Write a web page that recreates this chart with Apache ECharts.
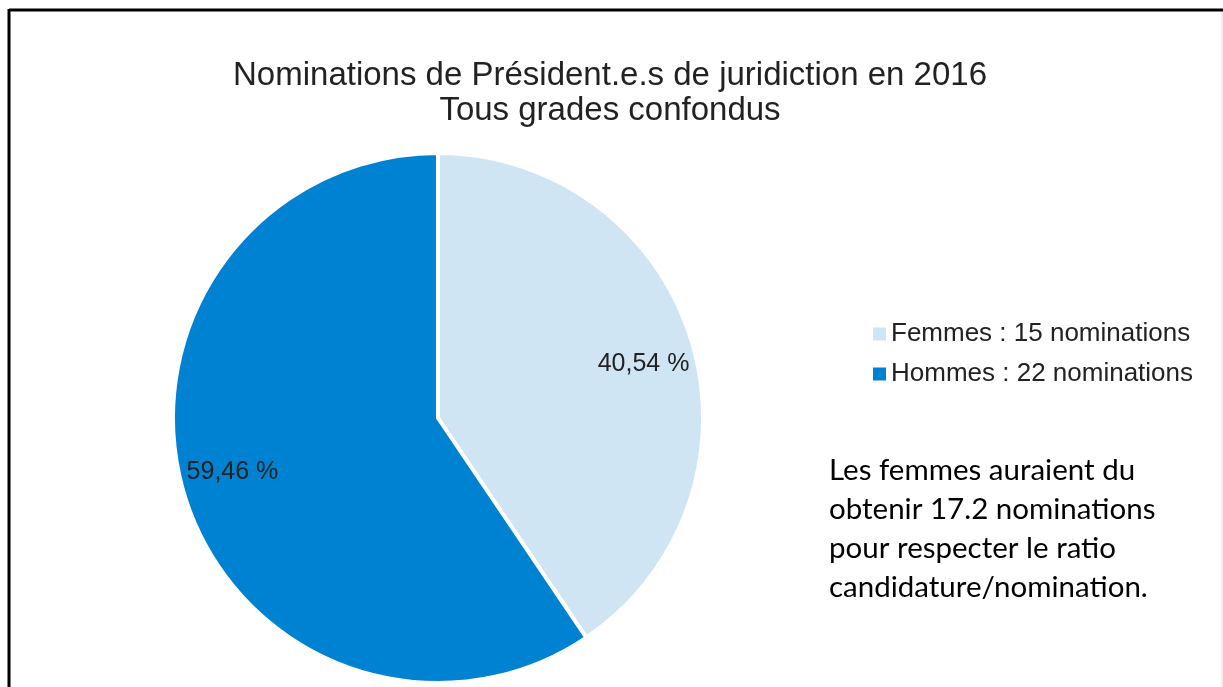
<!DOCTYPE html>
<html>
<head>
<meta charset="utf-8">
<script src="https://cdn.jsdelivr.net/npm/echarts@6/dist/echarts.min.js"></script>
<style>
  html, body { margin: 0; padding: 0; background: #fff; }
  #chart { width: 1223px; height: 687px; }
</style>
</head>
<body>
<div id="chart"></div>
<script>
// données
const categories = ['Femmes', 'Hommes']
const nominations = [15, 22]
const colors = ['#D0E5F4', '#0082D2']
const titleLines = ['Nominations de Président.e.s de juridiction en 2016', 'Tous grades confondus']
const noteLines = ['Les femmes auraient du', 'obtenir 17.2 nominations', 'pour respecter le ratio', 'candidature/nomination.']

const total = nominations.reduce((a, b) => a + b, 0)
const pieData = categories.map((name, i) => ({
  name: name,
  value: nominations[i],
  itemStyle: { color: colors[i] }
}))

const chart = echarts.init(document.getElementById('chart'))

chart.setOption({
  animation: false,
  title: {
    text: titleLines.join('\n'),
    left: 605,
    top: 53,
    textAlign: 'center',
    textStyle: {
      fontFamily: 'Liberation Sans',
      fontWeight: 'normal',
      fontSize: 33,
      lineHeight: 35,
      color: '#222'
    }
  },
  legend: {
    orient: 'vertical',
    left: 866,
    top: 316,
    itemWidth: 15,
    itemHeight: 15,
    itemGap: 14,
    icon: 'rect',
    data: categories,
    formatter: name => name + ' : ' + nominations[categories.indexOf(name)] + ' nominations',
    textStyle: {
      fontFamily: 'Liberation Sans',
      fontSize: 26,
      color: '#222',
      padding: [0, 0, 0, -1]
    }
  },
  graphic: [
    { type: 'line', shape: { x1: 9, y1: 10, x2: 1223, y2: 10 }, style: { stroke: '#000', lineWidth: 3 } },
    { type: 'line', shape: { x1: 9, y1: 9, x2: 9, y2: 687 }, style: { stroke: '#000', lineWidth: 3 } },
    { type: 'line', shape: { x1: 1222, y1: 12, x2: 1222, y2: 687 }, style: { stroke: '#ddd', lineWidth: 1 } },
    {
      type: 'text',
      left: 829,
      top: 451,
      style: {
        text: noteLines.join('\n'),
        fontFamily: 'Lato',
        fontSize: 29.5,
        lineHeight: 39,
        fill: '#000'
      }
    }
  ],
  series: [
    {
      type: 'pie',
      center: [438, 418],
      radius: 265,
      startAngle: 90,
      clockwise: true,
      data: pieData,
      label: { show: false },
      labelLine: { show: false },
      itemStyle: { borderColor: '#fff', borderWidth: 4 },
      emphasis: { disabled: true }
    },
    {
      // anneau transparent, seulement pour placer les pourcentages
      type: 'pie',
      center: [438, 418],
      radius: [154, 265],
      startAngle: 87.7,
      clockwise: true,
      silent: true,
      data: pieData.map(d => ({ name: d.name, value: d.value, itemStyle: { color: 'rgba(0,0,0,0)' } })),
      label: {
        show: true,
        position: 'inside',
        formatter: p => (p.value / total * 100).toFixed(2).replace('.', ',') + ' %',
        fontFamily: 'Liberation Sans',
        fontSize: 25,
        color: '#222'
      },
      labelLine: { show: false },
      emphasis: { disabled: true }
    }
  ]
})
</script>
</body>
</html>
